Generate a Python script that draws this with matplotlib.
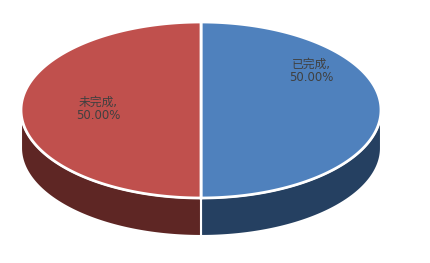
import numpy as np
import matplotlib
matplotlib.use("Agg")
import matplotlib.pyplot as plt
from matplotlib.patches import Polygon

#-----Data-----#
labels = ["已完成", "未完成"]
values = [50, 50]
top_colors = ["#4F81BD", "#C0504D"]
side_colors = ["#254061", "#5E2624"]
label_pos = [(311, 71), (98, 109)]

#-----Geometry (pixels)-----#
W, H = 431, 263
cx, cy = 201, 110
a, b = 180, 88
depth = 38

def arc(t0, t1, n=200):
    t = np.linspace(t0, t1, n)
    return np.column_stack([cx + a*np.cos(t), cy - b*np.sin(t)])

fig = plt.figure(figsize=(W/100, H/100), dpi=100)
ax = fig.add_axes([0, 0, 1, 1])
ax.set_xlim(0, W)
ax.set_ylim(H, 0)
ax.axis("off")

total = float(sum(values))
start = np.pi/2
slices = []
for v in values:
    sweep = 2*np.pi*v/total
    slices.append((start, start - sweep))
    start -= sweep

# sides first (front half only)
for (t0, t1), sc in zip(slices, side_colors):
    lo, hi = min(t0, t1), max(t0, t1)
    for shift in (0, 2*np.pi, -2*np.pi):
        s0 = max(lo, -np.pi + shift)
        s1 = min(hi, 0 + shift)
        if s1 > s0:
            top = arc(s0, s1)
            bot = top + np.array([0, depth])
            poly = np.vstack([top, bot[::-1]])
            ax.add_patch(Polygon(poly, closed=True, facecolor=sc,
                                 edgecolor="white", linewidth=1.5, zorder=1))

# top faces
for (t0, t1), tc in zip(slices, top_colors):
    pts = np.vstack([[cx, cy], arc(t0, t1)])
    ax.add_patch(Polygon(pts, closed=True, facecolor=tc,
                         edgecolor="white", linewidth=2, zorder=2))

# labels
for lab, v, (x, y) in zip(labels, values, label_pos):
    pct = 100.0*v/total
    ax.text(x, y, lab + ",\n" + "%.2f%%" % pct, ha="center", va="center",
            fontsize=8.5, color="#404040", linespacing=1.0, zorder=3,
            family=['DejaVu Sans', 'Noto Sans CJK SC'])

fig.savefig("out.png", dpi=100)
